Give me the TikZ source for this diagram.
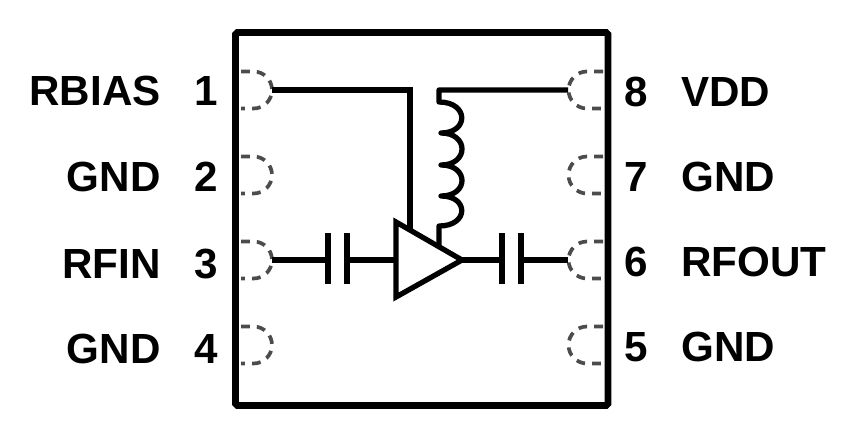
\documentclass[tikz,border=0pt]{standalone}
\usepackage{fontspec}
\setmainfont{Liberation Sans}
\tikzset{
    wire/.style={line width=3pt, black},
    pkgbox/.style={line width=3.8pt, black, rounded corners=1pt},
    pad/.style={line width=2.1pt, black!70, dash pattern=on 5pt off 4pt},
    pinlabel/.style={inner sep=0pt, font=\fontsize{24}{26}\selectfont\bfseries},
}

\begin{document}
\begin{tikzpicture}[x=0.02cm, y=-0.02cm]
    \newcommand\posA{90}
    \newcommand\posB{175}
    \newcommand\posC{260}
    \newcommand\posD{345}

    \useasboundingbox (0, 0) rectangle (847, 429);

    \node[pkgbox, draw, rectangle, inner sep=0pt, minimum width=372.5*0.02cm, minimum height=373*0.02cm] (pkg) at (421.75, 219){};

    % pads
    \draw[pad] (241, \posA - 18.5) -- (253.5, \posA - 18.5) arc[start angle=-90, end angle=90, radius=18.5] -- (241, \posA + 18.5);
    \draw[pad] (241, \posB - 18.5) -- (253.5, \posB - 18.5) arc[start angle=-90, end angle=90, radius=18.5] -- (241, \posB + 18.5);
    \draw[pad] (241, \posC - 18.5) -- (253.5, \posC - 18.5) arc[start angle=-90, end angle=90, radius=18.5] -- (241, \posC + 18.5);
    \draw[pad] (241, \posD - 18.5) -- (253.5, \posD - 18.5) arc[start angle=-90, end angle=90, radius=18.5] -- (241, \posD + 18.5);
    \draw[pad] (603, \posA - 18.5) -- (587, \posA - 18.5) arc[start angle=-90, end angle=-270, radius=18.5] -- (603, \posA + 18.5);
    \draw[pad] (603, \posB - 18.5) -- (587, \posB - 18.5) arc[start angle=-90, end angle=-270, radius=18.5] -- (603, \posB + 18.5);
    \draw[pad] (603, \posC - 18.5) -- (587, \posC - 18.5) arc[start angle=-90, end angle=-270, radius=18.5] -- (603, \posC + 18.5);
    \draw[pad] (603, \posD - 18.5) -- (587, \posD - 18.5) arc[start angle=-90, end angle=-270, radius=18.5] -- (603, \posD + 18.5);

    \coordinate (pin1) at (272, \posA);
    \coordinate (pin3) at (272, \posC);
    \coordinate (pin6) at (568, \posC);
    \coordinate (pin8) at (568, \posA);

    % amplifier
    \coordinate (ampT) at (396, 222);
    \coordinate (ampB) at (396, 297);
    \coordinate (ampO) at (462, \posC);
    \coordinate (ampI) at (396, \posC);
    \coordinate (ampBias) at (410, 231);
    \coordinate (ampVdd) at (439, 247);
    \draw[wire] (ampT) -- (ampO) -- (ampB) -- cycle;

    % input capacitor
    \coordinate (capA1) at (328, 233);
    \coordinate (capA2) at (328, 284);
    \coordinate (capB1) at (347, 233);
    \coordinate (capB2) at (347, 284);
    \draw[wire] (capA1) -- (capA2);
    \draw[wire] (capB1) -- (capB2);
    \draw[wire] (pin3) -- (capA1 |- pin3);
    \draw[wire] (capB1 |- pin3) -- (ampI);

    % output capacitor
    \coordinate (capC1) at (502, 233);
    \coordinate (capC2) at (502, 284);
    \coordinate (capD1) at (521, 233);
    \coordinate (capD2) at (521, 284);
    \draw[wire] (capC1) -- (capC2);
    \draw[wire] (capD1) -- (capD2);
    \draw[wire] (ampO) -- (capC1 |- pin6);
    \draw[wire] (capD1 |- pin6) -- (pin6);

    % bias line and inductor
    \draw[wire] (pin1) -| (ampBias);
    \draw[wire, line join=round] (pin8) -- (439, \posA) -- (439, 102)
        .. controls (469, 102) and (469, 133) .. (441, 133)
        .. controls (469, 133) and (469, 165) .. (441, 165)
        .. controls (469, 165) and (469, 196) .. (441, 196)
        .. controls (469, 196) and (469, 226) .. (439, 226) -- (ampVdd);

    % left labels
    \node[pinlabel, anchor=east] (labA) at (161, \posA + 1){RBIAS};
    \node[pinlabel, anchor=east] (labB) at (161, \posB + 2){GND};
    \node[pinlabel, anchor=east] (labC) at (161, \posC + 4){RFIN};
    \node[pinlabel, anchor=east] (labD) at (161, \posD + 4){GND};
    \node[pinlabel] (num1) at (206, \posA + 1){1};
    \node[pinlabel] (num2) at (206, \posB + 2){2};
    \node[pinlabel] (num3) at (206, \posC + 4){3};
    \node[pinlabel] (num4) at (206, \posD + 4){4};

    % right labels
    \node[pinlabel, anchor=west] (labE) at (681, \posA + 2){VDD};
    \node[pinlabel, anchor=west] (labF) at (681, \posB + 2){GND};
    \node[pinlabel, anchor=west] (labG) at (681, \posC + 2){RFOUT};
    \node[pinlabel, anchor=west] (labH) at (681, \posD + 2){GND};
    \node[pinlabel] (num8) at (636, \posA + 2){8};
    \node[pinlabel] (num7) at (636, \posB + 2){7};
    \node[pinlabel] (num6) at (636, \posC + 2){6};
    \node[pinlabel] (num5) at (636, \posD + 2){5};
\end{tikzpicture}
\end{document}
